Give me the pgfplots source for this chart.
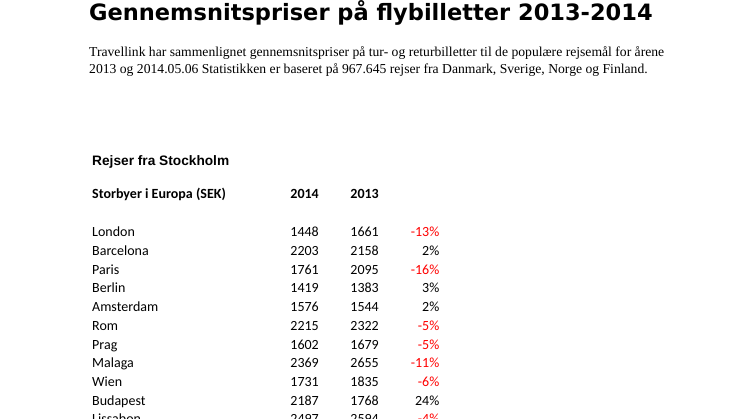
\documentclass[border=0pt]{standalone}
\usepackage{fontspec}
\setmainfont{Liberation Serif}
\newfontfamily\titlefont{DejaVu Sans}
\newfontfamily\arialfont{Liberation Sans}
\newfontfamily\calfont{Carlito}
\usepackage{pgfplots}
\usepackage{pgfplotstable}
\pgfplotsset{compat=1.18}

\pgfplotstableread{
city a b pct
London 1448 1661 -13
Barcelona 2203 2158 2
Paris 1761 2095 -16
Berlin 1419 1383 3
Amsterdam 1576 1544 2
Rom 2215 2322 -5
Prag 1602 1679 -5
Malaga 2369 2655 -11
Wien 1731 1835 -6
Budapest 2187 1768 24
Lissabon 2497 2594 -4
}\prices

\begin{document}
\begin{tikzpicture}
\begin{axis}[
  scale only axis, width=746pt, height=419pt,
  xmin=0, xmax=746, ymin=0, ymax=419, y dir=reverse,
  axis lines=none, clip=false,
  every node near coord/.style={inner sep=0pt, font=\calfont\fontsize{14}{16}\selectfont, text=black},
]
\addplot[only marks, mark=none, nodes near coords, point meta=explicit symbolic,
  every node near coord/.append style={anchor=base west}]
  table[x expr=92, y expr=236.8+18.7*\coordindex, meta=city]{\prices};
\addplot[only marks, mark=none, nodes near coords, point meta=explicit symbolic,
  every node near coord/.append style={anchor=base east}]
  table[x expr=319, y expr=236.8+18.7*\coordindex, meta=a]{\prices};
\addplot[only marks, mark=none, nodes near coords, point meta=explicit symbolic,
  every node near coord/.append style={anchor=base east}]
  table[x expr=379, y expr=236.8+18.7*\coordindex, meta=b]{\prices};
\addplot[only marks, mark=none, point meta=explicit symbolic,
  nodes near coords={\ifdim\pgfplotspointmeta pt<0pt\color{red}\fi\pgfplotspointmeta\%},
  every node near coord/.append style={anchor=base east}]
  table[x expr=439.5, y expr=236.8+18.7*\coordindex, meta=pct]{\prices};

\node[anchor=base west, inner sep=0pt, font=\titlefont\bfseries\fontsize{22.5}{26}\selectfont]
  at (axis cs:89,21) {Gennemsnitspriser på flybilletter 2013-2014};
\node[anchor=base west, inner sep=0pt, font=\fontsize{13.65}{16}\selectfont]
  at (axis cs:89,56.5) {Travellink har sammenlignet gennemsnitspriser på tur- og returbilletter til de populære rejsemål for årene};
\node[anchor=base west, inner sep=0pt, font=\fontsize{13.65}{16}\selectfont]
  at (axis cs:89,73.5) {2013 og 2014.05.06 Statistikken er baseret på 967.645 rejser fra Danmark, Sverige, Norge og Finland.};
\node[anchor=base west, inner sep=0pt, font=\arialfont\bfseries\fontsize{13.7}{16}\selectfont]
  at (axis cs:92,165.5) {Rejser fra Stockholm};
\node[anchor=base west, inner sep=0pt, font=\calfont\bfseries\fontsize{14}{16}\selectfont]
  at (axis cs:92,199) {Storbyer i Europa (SEK)};
\node[anchor=base east, inner sep=0pt, font=\calfont\bfseries\fontsize{14}{16}\selectfont]
  at (axis cs:319,199) {2014};
\node[anchor=base east, inner sep=0pt, font=\calfont\bfseries\fontsize{14}{16}\selectfont]
  at (axis cs:379,199) {2013};
\end{axis}
\pgfresetboundingbox
\path (current axis.south west) rectangle (current axis.north east);
\end{tikzpicture}
\end{document}
